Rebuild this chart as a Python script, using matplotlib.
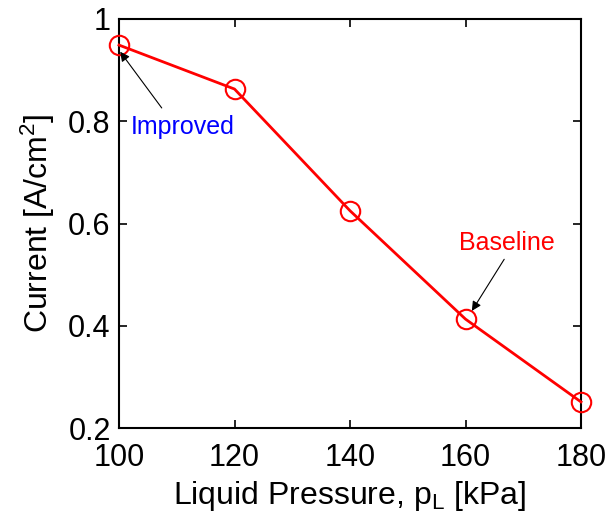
import matplotlib
matplotlib.use("Agg")
import matplotlib.pyplot as plt

pressure = [100, 120, 140, 160, 180]
current = [0.949, 0.863, 0.625, 0.413, 0.251]
xticks = [100, 120, 140, 160, 180]
yticks = [0.2, 0.4, 0.6, 0.8, 1.0]
ytick_labels = ["0.2", "0.4", "0.6", "0.8", "1"]

plt.rcParams['font.family'] = ['Liberation Sans', 'DejaVu Sans']
plt.rcParams['mathtext.fontset'] = 'custom'
plt.rcParams['mathtext.rm'] = 'Liberation Sans'
plt.rcParams['mathtext.it'] = 'Liberation Sans'

fig = plt.figure(figsize=(6.07, 5.2), dpi=100)
ax = fig.add_axes([119/607, 1-428/520, (581-119)/607, (428-19)/520])
ax.plot(pressure, current, color='red', lw=2, marker='o', ms=14,
        mfc='none', mec='red', mew=1.5, clip_on=False, zorder=3)
ax.set_xlim(100, 180)
ax.set_ylim(0.2, 1.0)
ax.set_xticks(xticks)
ax.set_xticklabels([str(t) for t in xticks])
ax.set_yticks(yticks)
ax.set_yticklabels(ytick_labels)
ax.tick_params(direction='in', top=True, right=True, labelsize=22, length=6, width=1.2)
ax.tick_params(axis='x', pad=11)
ax.tick_params(axis='y', pad=6)
for s in ax.spines.values():
    s.set_linewidth(1.5)
ax.set_xlabel("Liquid Pressure, p$_\\mathrm{L}$ [kPa]", fontsize=23, labelpad=4)
ax.set_ylabel("Current [A/cm$^\\mathrm{2}$]", fontsize=23, labelpad=8)

# annotations (text positions and arrow tails in data coordinates)
ax.text(111.1, 0.789, "Improved", color='blue', fontsize=18, ha='center', va='center')
ax.annotate("", xy=(100.2, 0.936), xytext=(107.4, 0.826),
            arrowprops=dict(arrowstyle='-|>', color='black', lw=0.8, shrinkA=0, shrinkB=0,
                            mutation_scale=14))
ax.text(167.2, 0.562, "Baseline", color='red', fontsize=18, ha='center', va='center')
ax.annotate("", xy=(161.1, 0.429), xytext=(166.7, 0.530),
            arrowprops=dict(arrowstyle='-|>', color='black', lw=0.8, shrinkA=0, shrinkB=0,
                            mutation_scale=14))

fig.savefig("out.png", dpi=100)
